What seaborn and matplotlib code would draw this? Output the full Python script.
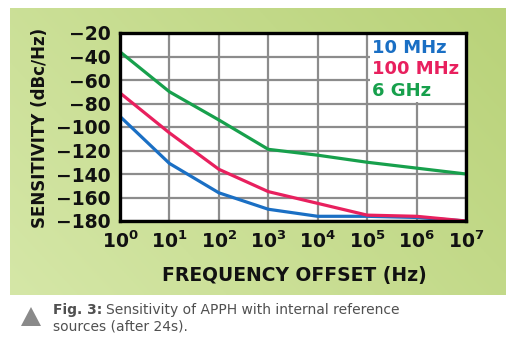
import numpy as np
import pandas as pd
import seaborn as sns
import matplotlib.pyplot as plt
from matplotlib.patches import Rectangle, Polygon

# Frequency offsets (Hz) and sensitivity (dBc/Hz) for each reference source
exponents = [0, 1, 2, 3, 4, 5, 6, 7]
offsets = [10.0 ** e for e in exponents]
sens_10mhz = [-91, -131, -156, -170, -176, -176, -177, -180]
sens_100mhz = [-71, -105, -136, -155, -165, -175, -176, -180]
sens_6ghz = [-36, -70, -94, -119, -124, -130, -135, -140]
series_names = ["10 MHz", "100 MHz", "6 GHz"]
series_colors = ["#1a6fc4", "#e8205e", "#17a04c"]
y_ticks = [-20, -40, -60, -80, -100, -120, -140, -160, -180]

df = pd.DataFrame({
    "offset": offsets * 3,
    "sens": sens_10mhz + sens_100mhz + sens_6ghz,
    "source": sum([[n] * len(offsets) for n in series_names], []),
})

sns.set_theme(style="white")
plt.rcParams["font.family"] = ["DejaVu Sans"]
plt.rcParams["mathtext.fontset"] = "custom"
plt.rcParams["mathtext.bf"] = "DejaVu Sans:bold"
plt.rcParams["mathtext.rm"] = "DejaVu Sans:bold"

W, H = 513, 345
fig = plt.figure(figsize=(W / 100, H / 100), dpi=100)
fig.patch.set_facecolor("white")

# green gradient panel behind the chart
bg = fig.add_axes([10 / W, 1 - 295 / H, 496 / W, 287 / H], zorder=0)
gx, gy = np.meshgrid(np.linspace(0, 1, 200), np.linspace(0, 1, 120))
t = np.clip(0.65 * gx + 0.35 * gy, 0, 1)
light = np.array([0.835, 0.905, 0.655])
dark = np.array([0.725, 0.825, 0.475])
img = light[None, None, :] * (1 - t[..., None]) + dark[None, None, :] * t[..., None]
bg.imshow(img, aspect="auto", extent=[0, 1, 0, 1], origin="lower")
bg.set_axis_off()

ax = fig.add_axes([120 / W, 1 - 221 / H, 346 / W, 188 / H], zorder=2)
ax.set_facecolor("white")
ax.set_xscale("log")
ax.set_xlim(1, 1e7)
ax.set_ylim(-180, -20)
ax.set_yticks(y_ticks)
ax.set_xticks(offsets)
ax.grid(True, color="#8c8c8c", linewidth=1.6, zorder=0.5)
ax.set_axisbelow(True)
ax.minorticks_off()

# white area holding the series names
ax.add_patch(Rectangle((1.12e5, -79.0), 1e7 - 1.12e5, 59.0, facecolor="white",
                       edgecolor="none", zorder=1))

sns.lineplot(data=df, x="offset", y="sens", hue="source",
             palette=dict(zip(series_names, series_colors)),
             linewidth=2.3, legend=False, ax=ax, zorder=3)

for sp in ax.spines.values():
    sp.set_color("black")
    sp.set_linewidth(2.4)
    sp.set_zorder(4)

ax.tick_params(length=0, pad=7)
ax.set_yticklabels([f"\u2212{abs(v)}" for v in y_ticks], fontsize=13.5,
                   fontweight="bold", color="#111111")
ax.set_xticklabels([rf"$\mathbf{{10^{{{e}}}}}$" for e in exponents],
                   fontsize=13.5, color="#111111")
ax.set_xlabel("")
ax.set_ylabel("")
fig.text(294 / W, 1 - 275 / H, "FREQUENCY OFFSET (Hz)", fontsize=13.5,
         fontweight="bold", color="#111111", ha="center", va="center")
fig.text(40 / W, 1 - 128 / H, "SENSITIVITY (dBc/Hz)", fontsize=12,
         fontweight="bold", color="#111111", ha="center", va="center",
         rotation=90)

for i, (name, col) in enumerate(zip(series_names, series_colors)):
    fig.text(372 / W, 1 - (48 + 21.5 * i) / H, name, fontsize=13,
             fontweight="bold", color=col, ha="left", va="center", zorder=5)

# caption below the panel
fig.patches.append(Polygon([[21 / W, 1 - 326 / H], [41 / W, 1 - 326 / H],
                            [31 / W, 1 - 307 / H]], closed=True,
                           transform=fig.transFigure, facecolor="#8a8a8a",
                           edgecolor="none"))
head = fig.text(53 / W, 1 - 310 / H, "Fig. 3:", fontsize=10, fontweight="bold",
                color="#505050", ha="left", va="center")
renderer = fig.canvas.get_renderer()
head_box = head.get_window_extent(renderer=renderer)
fig.text((head_box.x1 + 4) / W, 1 - 310 / H,
         "Sensitivity of APPH with internal reference",
         fontsize=10, color="#505050", ha="left", va="center")
fig.text(53 / W, 1 - 327 / H, "sources (after 24s).", fontsize=10,
         color="#505050", ha="left", va="center")

fig.savefig("out.png", dpi=100)
